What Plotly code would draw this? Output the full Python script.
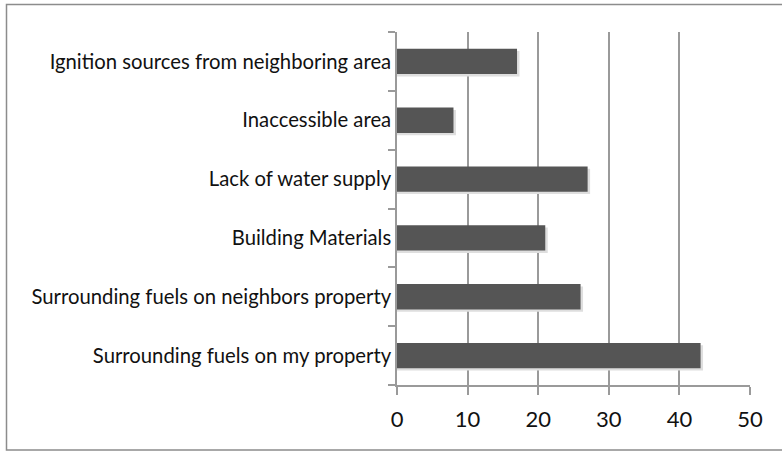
import plotly.graph_objects as go

categories = [
    "Surrounding fuels on my property",
    "Surrounding fuels on neighbors property",
    "Building Materials",
    "Lack of water supply",
    "Inaccessible area",
    "Ignition sources from neighboring area",
]
values = [43, 26, 21, 27, 8, 17]
x_ticks = [0, 10, 20, 30, 40, 50]

W, H = 782, 451
L, R, T, B = 397, 32, 32, 66
pw, ph = W - L - R, H - T - B

def px(x):
    return (x - L) / pw

def py(y):
    return (H - B - y) / ph

fig = go.Figure()
# soft drop shadow
fig.add_trace(go.Bar(
    y=categories, x=[v + 0.35 for v in values], orientation="h",
    marker=dict(color="#dedede", line=dict(width=0)),
    width=0.43, offset=-0.215 - 0.04, hoverinfo="skip",
))
fig.add_trace(go.Bar(
    y=categories, x=values, orientation="h",
    marker=dict(color="#555555", line=dict(width=0)),
    width=0.43, offset=-0.215,
))

fig.update_layout(
    width=W, height=H,
    margin=dict(l=L, r=R, t=T, b=B),
    paper_bgcolor="white", plot_bgcolor="white",
    showlegend=False, barmode="overlay",
    font=dict(family="Lato, Open Sans, sans-serif", color="#111111"),
    xaxis=dict(
        range=[0, 50], tickvals=x_ticks, ticktext=[str(v) for v in x_ticks],
        showgrid=True, gridcolor="#9a9a9a", gridwidth=1.5,
        showline=True, linecolor="#9a9a9a", linewidth=1.5,
        ticks="outside", ticklen=8, tickcolor="#9a9a9a", tickwidth=1.5,
        tickfont=dict(size=22), zeroline=False, automargin=False,
        ticklabelstandoff=6,
    ),
    yaxis=dict(
        type="category", categoryorder="array", categoryarray=categories,
        showline=True, linecolor="#9a9a9a", linewidth=1.5,
        ticks="outside", tickson="boundaries", ticklen=7, tickcolor="#9a9a9a", tickwidth=1.5,
        tickfont=dict(size=20.3), showgrid=False, range=[-0.5, 5.5], automargin=False,
    ),
    shapes=[
        dict(type="rect", xref="paper", yref="paper",
             x0=px(6.5), x1=px(790), y0=py(450), y1=py(4.5),
             line=dict(color="#8c8c8c", width=1.5), fillcolor="rgba(0,0,0,0)", layer="below"),
    ],
)

fig.write_html(
    "out.html",
    config={"displayModeBar": False},
    post_script="document.body.style.margin='0';document.body.style.overflow='hidden';",
)
